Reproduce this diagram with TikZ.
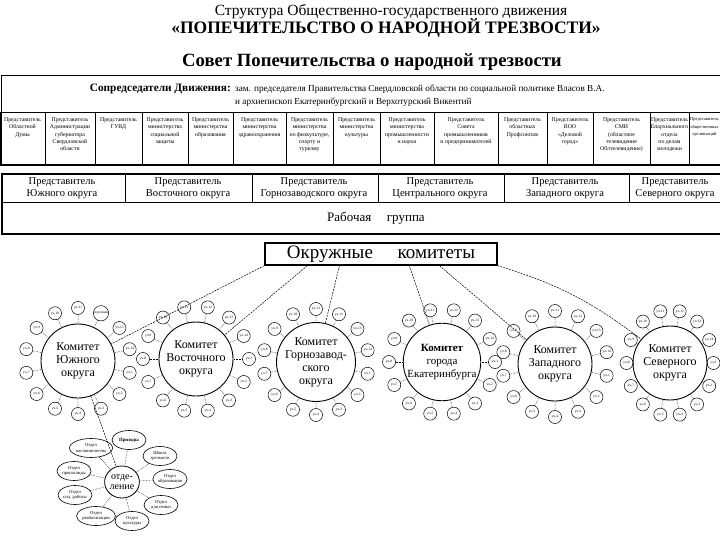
\documentclass[tikz,border=0pt]{standalone}
\usepackage{fontspec}
\setmainfont{Liberation Serif}
\usetikzlibrary{positioning,shapes.geometric}

\tikzset{
  memberbox/.style={draw,line width=0.6pt,inner sep=0pt,minimum height=53pt},
  membertext/.style={anchor=north,align=center,inner sep=0pt,font=\fontsize{5.8}{7.2}\selectfont},
  reprcell/.style={align=center,inner sep=0pt,font=\fontsize{10.5}{11.5}\selectfont},
  committee/.style={draw,circle,line width=0.9pt,minimum size=74pt,inner sep=0pt,align=center,font=\fontsize{12}{13}\selectfont},
  cellnode/.style={draw,circle,line width=0.5pt,minimum size=13pt,inner sep=0pt,font=\fontsize{3.5}{4}\selectfont},
  celltick/.style={densely dotted,line width=0.5pt},
  feeder/.style={dash pattern=on 2pt off 1pt,line width=0.5pt},
  deptoval/.style={draw,ellipse,line width=0.6pt,minimum width=34pt,minimum height=19pt,inner sep=0pt,align=center,font=\fontsize{4.6}{5.2}\selectfont},
}

\begin{document}
\begin{tikzpicture}[x=1pt,y=-1pt]
  \useasboundingbox (0,0) rectangle (720,540);
  \clip (0,0) rectangle (720,540);

  \node[font=\fontsize{15.5}{17}\selectfont] (title) at (391,12)
    {Структура Общественно-государственного движения};
  \node[font=\fontsize{17.5}{19}\selectfont\bfseries] (movement) at (386,28)
    {«ПОПЕЧИТЕЛЬСТВО О НАРОДНОЙ ТРЕЗВОСТИ»};
  \node[font=\fontsize{18.7}{20}\selectfont\bfseries] (council) at (372,62)
    {Совет Попечительства о народной трезвости};

  % council box
  \draw[line width=0.8pt] (1,75) rectangle (740,165);
  \draw[line width=0.8pt] (0,112) -- (720,112);
  \draw[line width=2pt] (0,165) -- (720,165);
  \node[anchor=east,inner sep=0pt,font=\fontsize{11.3}{12}\selectfont\bfseries] (cochairs) at (231,89)
    {Сопредседатели Движения:};
  \node[anchor=west,inner sep=0pt,font=\fontsize{9.2}{10}\selectfont] (cochairone) at (235,89)
    {зам. председателя Правительства Свердловской области по социальной политике Власов В.А.};
  \node[anchor=west,inner sep=0pt,font=\fontsize{9.2}{10}\selectfont] (cochairtwo) at (235,102)
    {и архиепископ Екатеринбургский и Верхотурский Викентий};

  \foreach \xl/\xr/\txt [count=\i] in {
    0/45/{Представитель\\Областной\\Думы},
    45/95/{Представитель\\Администрации\\губернатора\\Свердловской\\области},
    95/142/{Представитель\\ГУВД},
    142/188/{Представитель\\министерства\\социальной\\защиты},
    188/233/{Представитель\\министерства\\образования},
    233/286/{Представитель\\министерства\\здравоохранения},
    286/333/{Представитель\\министерства\\по физкультуре,\\спорту и\\туризму},
    333/380/{Представитель\\министерства\\культуры},
    380/434/{Представитель\\министерства\\промышленности\\и науки},
    434/498/{Представитель\\Совета\\промышленников\\и предпринимателей},
    498/547/{Представитель\\областных\\Профсоюзов},
    547/593/{Представитель\\ВОО\\«Деловой\\город»},
    593/650/{Представитель\\СМИ\\(областное\\телевидение\\Облтелевидение)},
    650/689/{Представитель\\Епархиального\\отдела\\по делам\\молодежи}}{
    \pgfmathsetmacro\boxw{\xr-\xl}
    \pgfmathsetmacro\boxc{(\xl+\xr)/2}
    \node[memberbox,minimum width=\boxw pt] (member\i) at (\boxc,138.5) {};
    \node[membertext] (membertext\i) at ([yshift=-6pt]member\i.north) {\txt};
  }
  \node[memberbox,minimum width=31pt] (member15) at (704.5,138.5) {};
  \node[membertext,font=\fontsize{4.5}{7.2}\selectfont] (membertext15) at ([yshift=-6pt]member15.north)
    {Представитель\\общественных\\организаций};

  % representatives and working group
  \node[draw,line width=2pt,inner sep=0pt,minimum width=739pt,minimum height=60pt,anchor=north west]
    (reprframe) at (1,173) {};
  \draw[line width=1pt] ([yshift=-30pt]reprframe.north west) -- ([yshift=-30pt]reprframe.north east);
  \foreach \dx in {124,251,377,503,628}
    \draw[line width=1pt] ([xshift=\dx pt]reprframe.north west) -- ++(0,30);
  \foreach \cx/\name [count=\i] in {62/Южного,188/Восточного,314/Горнозаводского,440/Центрального,565/Западного,675/Северного}
    \node[reprcell] (repr\i) at (\cx,188) {Представитель\\\name\ округа};
  \node[font=\fontsize{13}{14}\selectfont] (workgroup) at (376,218) {Рабочая\hspace{1.2em}группа};

  % district committees
  \node[draw,line width=1.2pt,minimum width=232pt,minimum height=22pt,inner sep=0pt,
    font=\fontsize{19}{21}\selectfont] (districts) at (381,254) {Окружные\hspace{1.3em}комитеты};

  \node[committee] (com1) at (78,361) {Комитет\\Южного\\округа};
  \node[committee] (com2) at (196,359) {Комитет\\Восточного\\округа};
  \node[committee] (com3) at (316,362) {Комитет\\Горнозавод-\\ского\\округа};
  \node[committee,font=\fontsize{11}{13}\selectfont] (com4) at (442,362) {\textbf{Комитет}\\города\\Екатеринбурга};
  \node[committee] (com5) at (555,364) {Комитет\\Западного\\округа};
  \node[committee] (com6) at (670,363) {Комитет\\Северного\\округа};

  \draw[feeder] (districts.south west) -- (com1);
  \draw[feeder] ([xshift=43pt]districts.south west) -- (com2);
  \draw[feeder] ([xshift=75pt]districts.south west) -- (com3);
  \draw[feeder] ([xshift=145pt]districts.south west) -- (com4);
  \draw[feeder] ([xshift=175pt]districts.south west) -- (com5);
  \draw[feeder] (districts.south east) to[bend left=10] (com6);

  \foreach \c/\off/\rx in {1/12.86/53,2/0/53,3/12.86/53,4/0/53,5/12.86/53,6/0/43.5}{
    \foreach \k in {1,...,14}{
      \pgfmathsetmacro\ang{\off+(\k-1)*360/14}
      \pgfmathsetmacro\ringx{\rx*cos(\ang)}
      \pgfmathsetmacro\ringy{53*sin(\ang)}
      \def\celltxt{уч-\k}
      \ifnum\c=1 \ifnum\k=12 \def\celltxt{отделение}\fi\fi
      \node[cellnode] (cell\c-\k) at ([shift={(\ringx,\ringy)}]com\c) {\celltxt};
      \draw[celltick] (cell\c-\k) -- (com\c);
    }
  }

  % branch of the southern committee
  \node[draw,ellipse,line width=0.8pt,minimum width=32pt,minimum height=32pt,inner sep=0pt,
    align=center,font=\fontsize{10}{10.5}\selectfont] (branch) at (122,482) {отде-\\ление};
  \draw[feeder] (com1) -- (branch);

  \node[deptoval,font=\fontsize{4.8}{5.2}\selectfont\bfseries] (dept1) at (129,440) {Приходы};
  \node[deptoval] (dept2) at (91,448) {Отдел\\наставничества};
  \node[deptoval] (dept3) at (160,456) {Школа\\трезвости};
  \node[deptoval] (dept4) at (74,471) {Отдел\\пропаганды};
  \node[deptoval] (dept5) at (170,479) {Отдел\\образования};
  \node[deptoval] (dept6) at (75,495) {Отдел\\соц. работы};
  \node[deptoval] (dept7) at (161,505) {Отдел\\для семьи};
  \node[deptoval] (dept8) at (96,516) {Отдел\\реабилитации};
  \node[deptoval] (dept9) at (132,521) {Отдел\\культуры};
  \foreach \d in {1,...,9}
    \draw[celltick] (dept\d) -- (branch);
\end{tikzpicture}
\end{document}
